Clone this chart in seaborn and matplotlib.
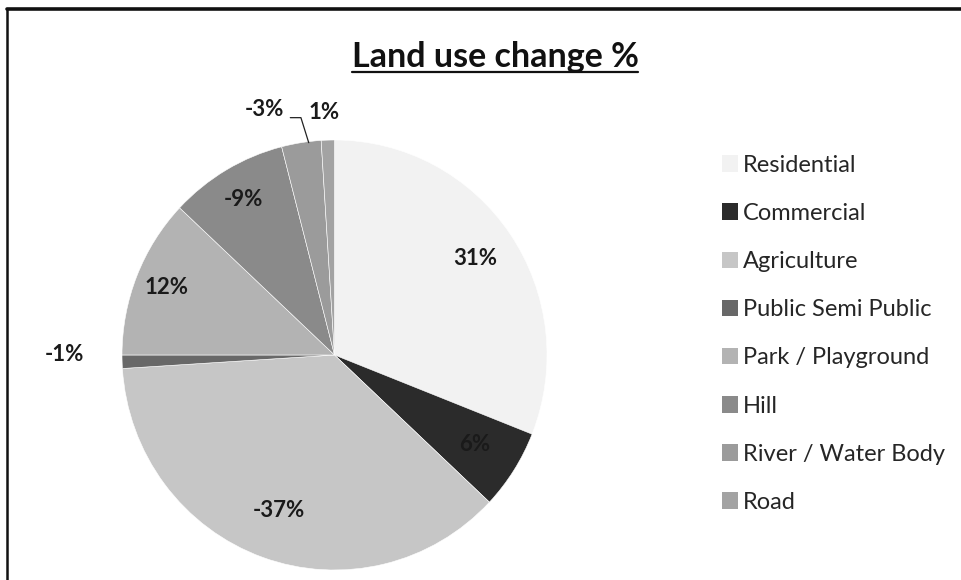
import numpy as np
import matplotlib
matplotlib.use("Agg")
import matplotlib.pyplot as plt
from matplotlib.patches import Patch
from matplotlib.lines import Line2D
import seaborn as sns

categories = ["Residential", "Commercial", "Agriculture", "Public Semi Public",
              "Park / Playground", "Hill", "River / Water Body", "Road"]
change_pct = [31, 6, -37, -1, 12, -9, -3, 1]
colors = ["#f2f2f2", "#2b2b2b", "#c6c6c6", "#686868",
          "#b3b3b3", "#8a8a8a", "#9b9b9b", "#a3a3a3"]
# radial position of each value label (fraction of radius)
label_r = [0.80, 0.78, 0.77, 1.27, 0.85, 0.84, 1.19, 1.13]

sns.set_theme(style="white")
plt.rcParams["font.family"] = ["Lato", "DejaVu Sans"]

fig = plt.figure(figsize=(9.61, 5.80), dpi=100)
fig.patch.set_facecolor("white")

# chart frame (top and left edges)
fig.add_artist(Line2D([7 / 961, 7 / 961], [0, 1 - 9 / 580], transform=fig.transFigure,
                      color="#111111", lw=1.8))
fig.add_artist(Line2D([7 / 961, 1], [1 - 9 / 580, 1 - 9 / 580], transform=fig.transFigure,
                      color="#111111", lw=2.6))

ax = fig.add_axes([122 / 961, 10 / 580, 425 / 961, 430 / 580])
sizes = np.abs(change_pct)
wedges, _ = ax.pie(sizes, colors=colors, startangle=90, counterclock=False,
                   radius=1.0, wedgeprops=dict(edgecolor="white", linewidth=0.4))
ax.set_xlim(-1, 1)
ax.set_ylim(-1, 1)
ax.set_aspect("auto")
ax.axis("off")

for w, val, r in zip(wedges, change_pct, label_r):
    mid = np.deg2rad((w.theta1 + w.theta2) / 2)
    if val == -3:
        mid = np.deg2rad(106)
    elif val == 1:
        mid = np.deg2rad(92.5)
    elif val == -1:
        mid = np.deg2rad(180)
    x, y = r * np.cos(mid), r * np.sin(mid)
    ax.text(x, y, f"{val}%", ha="center", va="center", fontsize=16,
            fontweight="bold", color="#1a1a1a", clip_on=False)
    if val == -3:
        # leader line to the thin wedge
        tip = np.deg2rad(97)
        ax.plot([x + 0.12, x + 0.17, np.cos(tip) * 0.995],
                [y - 0.04, y - 0.04, np.sin(tip) * 0.995],
                color="#222222", lw=0.9, clip_on=False)

fig.text(495 / 961, 1 - 67 / 580, "Land use change %", ha="center", va="baseline",
         fontsize=24.5, fontweight="bold", color="#111111")
fig.add_artist(Line2D([352 / 961, 638 / 961], [1 - 72 / 580, 1 - 72 / 580],
                      transform=fig.transFigure, color="#111111", lw=1.6))

handles = [Patch(facecolor=c, edgecolor="none") for c in colors]
fig.legend(handles, categories, loc="upper left", bbox_to_anchor=(710 / 961, 1 - 143 / 580),
           frameon=False, fontsize=17, handlelength=0.7, handleheight=0.7,
           handletextpad=0.2, labelspacing=1.15, borderpad=0)

fig.savefig("out.png", dpi=100, facecolor="white")
